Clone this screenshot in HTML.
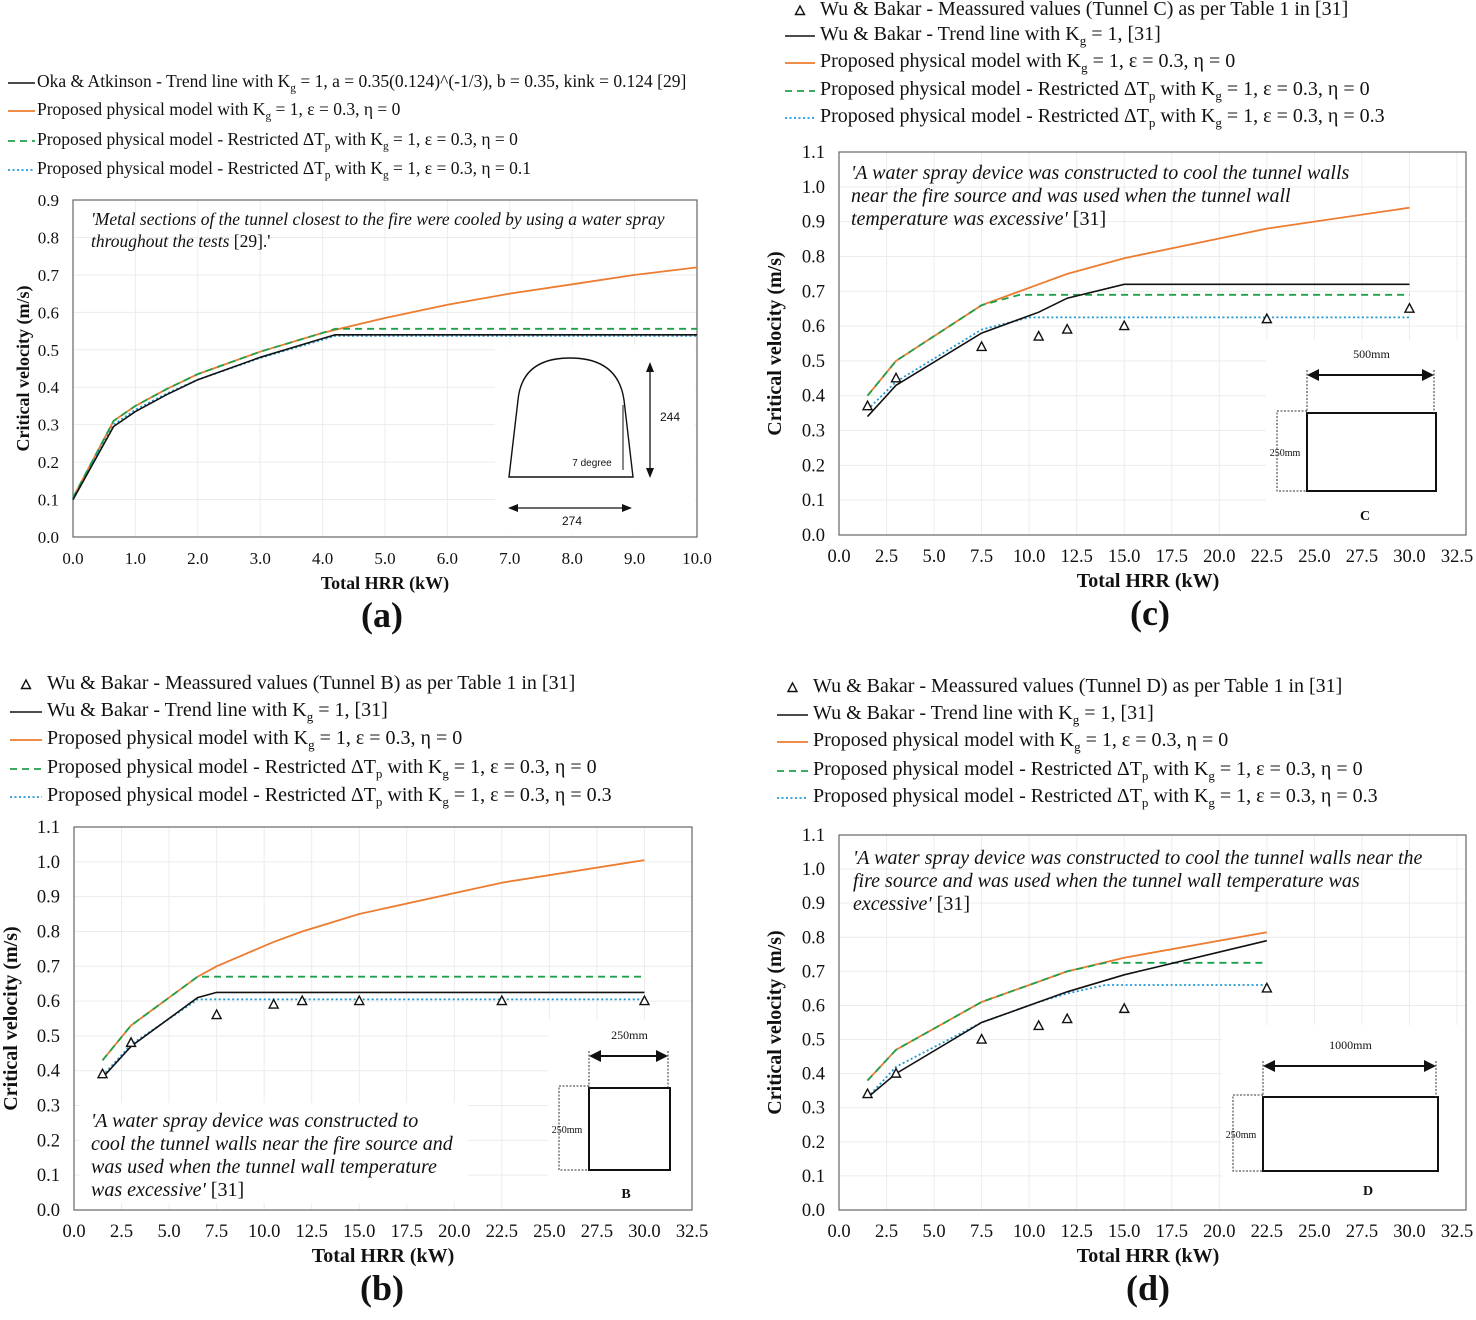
<!DOCTYPE html>
<html><head><meta charset="utf-8">
<style>
html,body{margin:0;padding:0;background:#fff;}
#root{position:relative;width:1476px;height:1320px;overflow:hidden;font-family:"Liberation Serif",serif;}
svg{position:absolute;left:0;top:0;}
.leg{position:absolute;white-space:nowrap;line-height:1;color:#111;}
.leg sub{font-size:0.65em;}
</style></head>
<body>
<div id="root">
<svg id="fig" width="1476" height="1320" xmlns="http://www.w3.org/2000/svg"></svg>
</div>
<script>
// ---- data ----
const aBlackX=[0,0.65,1,1.5,2,3,4,4.2,10];
const aBlackY=[0.1,0.295,0.335,0.38,0.42,0.48,0.53,0.54,0.54];
const aOrangeX=[0,0.65,1,1.5,2,3,4,5,6,7,8,9,10];
const aOrangeY=[0.105,0.31,0.35,0.395,0.435,0.495,0.545,0.585,0.62,0.65,0.675,0.7,0.72];
const aGreenX=[0,0.65,1,1.5,2,3,4,4.2,10];
const aGreenY=[0.105,0.31,0.35,0.395,0.435,0.495,0.545,0.556,0.556];
const aBlueX=[0,0.65,1,1.5,2,3,4,4.2,10];
const aBlueY=[0.1,0.3,0.34,0.383,0.42,0.478,0.527,0.537,0.537];

const bMeasX=[1.5,3,7.5,10.5,12,15,22.5,30];
const bMeasY=[0.39,0.48,0.56,0.59,0.6,0.6,0.6,0.6];
const bBlackX=[1.5,3,6.5,7.5,30];
const bBlackY=[0.38,0.47,0.61,0.625,0.625];
const bOrangeX=[1.5,3,6.5,7.5,10.5,12,15,22.5,30];
const bOrangeY=[0.43,0.53,0.67,0.7,0.77,0.8,0.85,0.94,1.005];
const bGreenX=[1.5,3,6.5,30];
const bGreenY=[0.43,0.53,0.67,0.67];
const bBlueX=[1.5,3,6.5,30];
const bBlueY=[0.385,0.475,0.605,0.605];

const cMeasX=[1.5,3,7.5,10.5,12,15,22.5,30];
const cMeasY=[0.37,0.45,0.54,0.57,0.59,0.6,0.62,0.65];
const cBlackX=[1.5,3,7.5,10.5,12,15,30];
const cBlackY=[0.34,0.43,0.58,0.64,0.68,0.72,0.72];
const cOrangeX=[1.5,3,7.5,10.5,12,15,22.5,30];
const cOrangeY=[0.4,0.5,0.66,0.72,0.75,0.795,0.88,0.94];
const cGreenX=[1.5,3,7.5,9.5,30];
const cGreenY=[0.4,0.5,0.66,0.69,0.69];
const cBlueX=[1.5,3,7.5,10,30];
const cBlueY=[0.36,0.44,0.59,0.625,0.625];

const dMeasX=[1.5,3,7.5,10.5,12,15,22.5];
const dMeasY=[0.34,0.4,0.5,0.54,0.56,0.59,0.65];
const dBlackX=[1.5,3,7.5,10.5,12,15,22.5];
const dBlackY=[0.33,0.4,0.55,0.61,0.64,0.69,0.79];
const dOrangeX=[1.5,3,7.5,10.5,12,15,22.5];
const dOrangeY=[0.38,0.47,0.61,0.67,0.7,0.74,0.815];
const dGreenX=[1.5,3,7.5,10.5,12,14,22.5];
const dGreenY=[0.38,0.47,0.61,0.67,0.7,0.725,0.725];
const dBlueX=[1.5,3,7.5,10.5,12,14,22.5];
const dBlueY=[0.33,0.42,0.55,0.61,0.635,0.66,0.66];

const aXTicks=[0,1,2,3,4,5,6,7,8,9,10];
const aYTicks=[0,0.1,0.2,0.3,0.4,0.5,0.6,0.7,0.8,0.9];
const bigXTicks=[0,2.5,5,7.5,10,12.5,15,17.5,20,22.5,25,27.5,30,32.5];
const bigYTicks=[0,0.1,0.2,0.3,0.4,0.5,0.6,0.7,0.8,0.9,1.0,1.1];

const NS="http://www.w3.org/2000/svg";
const svg=document.getElementById('fig');
function el(tag,attrs,parent){const e=document.createElementNS(NS,tag);for(const k in attrs)e.setAttribute(k,attrs[k]);(parent||svg).appendChild(e);return e;}
function txt(s,x,y,attrs,parent){const t=el('text',Object.assign({x:x,y:y,'font-family':'Liberation Serif, serif','font-size':17,fill:'#111'},attrs),parent);t.textContent=s;return t;}

const styles={
 black:{stroke:'#111','stroke-width':1.6},
 orange:{stroke:'#ec7c30','stroke-width':1.8},
 green:{stroke:'#1ea04a','stroke-width':1.8,'stroke-dasharray':'7,5'},
 blue:{stroke:'#1d9ad6','stroke-width':1.8,'stroke-dasharray':'2,2.5'}
};

function panel(p){
 const g=el('g',{});
 
 
 const sx=v=>p.L+(v-p.xmin)/(p.xmax-p.xmin)*(p.SR-p.L);
 const sy=v=>p.B-(v/p.ymax)*(p.B-p.T);
 p.yticks.forEach(v=>{const l=el('line',{x1:p.L,x2:p.R,y1:sy(v),y2:sy(v),stroke:'#ececec','stroke-width':1},g);
  });
 p.xticks.forEach(v=>{const l=el('line',{x1:sx(v),x2:sx(v),y1:p.T,y2:p.B,stroke:'#ececec','stroke-width':1},g);
  });
 const box=el('rect',{x:p.L,y:p.T,width:p.R-p.L,height:p.B-p.T,fill:'none',stroke:'#666','stroke-width':1.2},g);
 
 p.yticks.forEach(v=>{const t=txt(v.toFixed(1),p.L-14,sy(v)+6,{'text-anchor':'end','font-size':p.tfs},g);
  });
 p.xticks.forEach(v=>{const t=txt(v.toFixed(1),sx(v),p.B+27,{'text-anchor':'middle','font-size':p.tfs},g);
  });
 const xt=txt('Total HRR (kW)',(p.L+p.SR)/2,p.B+52,{'text-anchor':'middle','font-weight':'bold','font-size':p.afs},g);
 
 const yt=txt('Critical velocity (m/s)',0,0,{'text-anchor':'middle','font-weight':'bold','font-size':p.afs,transform:`translate(${p.ytx},${(p.T+p.B)/2}) rotate(-90)`},g);
 
 const lab=txt(p.label,p.labx,p.B+90,{'text-anchor':'middle','font-weight':'bold','font-size':36},g);
 
 p.draw(g,sx,sy);
 p.series.forEach(s=>{
  const pts=s.x.map((v,i)=>sx(v).toFixed(1)+','+sy(s.y[i]).toFixed(1)).join(' ');
  const pl=el('polyline',Object.assign({points:pts,fill:'none'},styles[s.style]),g);
  
 });
 if(p.meas){p.meas.x.forEach((v,i)=>{const X=sx(v),Y=sy(p.meas.y[i]);
  const tr=el('polygon',{points:`${X},${Y-5} ${X-4.5},${Y+3.5} ${X+4.5},${Y+3.5}`,fill:'#fff',stroke:'#111','stroke-width':1.4},g);
  });}
}
function rectInset(g,o){
 const bg=el('rect',{x:o.bx,y:o.by,width:o.bw,height:o.bh,fill:'#fff'},g);
 
 const r=el('rect',{x:o.rx,y:o.ry,width:o.rw,height:o.rh,fill:'none',stroke:'#111','stroke-width':2},g);
 
 el('line',{x1:o.rx,x2:o.rx,y1:o.ay-5,y2:o.ry,stroke:'#333','stroke-dasharray':'2,1.5'},g);
 el('line',{x1:o.rx+o.rw-2,x2:o.rx+o.rw-2,y1:o.ay-5,y2:o.ry,stroke:'#333','stroke-dasharray':'2,1.5'},g);
 el('line',{x1:o.rx+10,x2:o.rx+o.rw-12,y1:o.ay,y2:o.ay,stroke:'#111','stroke-width':2},g);
 el('polygon',{points:`${o.rx},${o.ay} ${o.rx+12},${o.ay-6} ${o.rx+12},${o.ay+6}`,fill:'#111'},g);
 el('polygon',{points:`${o.rx+o.rw-2},${o.ay} ${o.rx+o.rw-14},${o.ay-6} ${o.rx+o.rw-14},${o.ay+6}`,fill:'#111'},g);
 el('polyline',{points:`${o.rx},${o.ry-2} ${o.rx-30},${o.ry-2} ${o.rx-30},${o.ry+o.rh} ${o.rx},${o.ry+o.rh}`,fill:'none',stroke:'#333','stroke-dasharray':'2,1.5'},g);
 const w=txt(o.wlab,o.rx+o.rw/2,o.ay-17,{'text-anchor':'middle','font-size':12},g);
 
 const h=txt('250mm',o.rx-22,o.ry+o.rh/2+4,{'text-anchor':'middle','font-size':10},g);
 
 const c=txt(o.letter,o.lx,o.ly,{'text-anchor':'middle','font-size':14,'font-weight':'bold'},g);
 
}
function note(g,lines,x,y0,dy,fs,bg){
 if(bg){const b=el('rect',bg,g);b.setAttribute('fill','#fff');}
 lines.forEach((s,i)=>{const t=txt('',x,y0+i*dy,{'font-size':fs},g);
  
  const m=s.match(/^(.*?)(\s\[\d+\].*)?$/);
  const a=el('tspan',{'font-style':'italic'},t);a.textContent=m[1];
  if(m[2]){const b=el('tspan',{},t);b.textContent=m[2];}
 });
}

panel({name:'panel-a',L:73,R:697,SR:697,T:200,B:537,xmin:0,xmax:10,ymax:0.9,xticks:aXTicks,yticks:aYTicks,ytx:29,label:'(a)',labx:382,tfs:17,afs:18,
 series:[{name:'series-orange',x:aOrangeX,y:aOrangeY,style:'orange'},{name:'series-green',x:aGreenX,y:aGreenY,style:'green'},{name:'series-blue',x:aBlueX,y:aBlueY,style:'blue'},{name:'series-black',x:aBlackX,y:aBlackY,style:'black'}],
 draw:(g)=>{
  note(g,["'Metal sections of the tunnel closest to the fire were cooled by using a water spray","throughout the tests [29].'"],91,225,22,17.5);
  const bg=el('rect',{x:495,y:345,width:200,height:190,fill:'#fff'},g);
  
  const ar=el('path',{d:'M509,477 L518,400 Q522,358 570,358 Q618,358 624,400 L633,477 Z',fill:'none',stroke:'#111','stroke-width':1.4},g);
  
  el('line',{x1:623,x2:623,y1:405,y2:470,stroke:'#111','stroke-width':1},g);
  el('line',{x1:650,x2:650,y1:368,y2:472,stroke:'#111','stroke-width':1.3},g);
  el('polygon',{points:'650,362 646,372 654,372',fill:'#111'},g);
  el('polygon',{points:'650,478 646,468 654,468',fill:'#111'},g);
  el('line',{x1:512,x2:628,y1:508,y2:508,stroke:'#111','stroke-width':1.3},g);
  el('polygon',{points:'508,508 518,504 518,512',fill:'#111'},g);
  el('polygon',{points:'632,508 622,504 622,512',fill:'#111'},g);
  txt('244',670,421,{'text-anchor':'middle','font-family':'Liberation Sans, sans-serif','font-size':12},g);
  txt('274',572,525,{'text-anchor':'middle','font-family':'Liberation Sans, sans-serif','font-size':12},g);
  txt('7 degree',592,466,{'text-anchor':'middle','font-family':'Liberation Sans, sans-serif','font-size':10},g);
 }});

panel({name:'panel-c',L:839,R:1466,SR:1457,T:152,B:535,xmin:0,xmax:32.5,ymax:1.1,xticks:bigXTicks,yticks:bigYTicks,ytx:781,label:'(c)',labx:1150,tfs:18.5,afs:20,
 series:[{name:'series-orange',x:cOrangeX,y:cOrangeY,style:'orange'},{name:'series-green',x:cGreenX,y:cGreenY,style:'green'},{name:'series-blue',x:cBlueX,y:cBlueY,style:'blue'},{name:'series-black',x:cBlackX,y:cBlackY,style:'black'}],
 meas:{x:cMeasX,y:cMeasY},
 draw:(g)=>{
  note(g,["'A water spray device was constructed to cool the tunnel walls","near the fire source and was used when the tunnel wall","temperature was excessive' [31]"],851,179,23,20);
  rectInset(g,{bx:1266,by:340,bw:199,bh:194,rx:1307,ry:413,rw:129,rh:78,ay:375,wlab:'500mm',letter:'C',lx:1365,ly:520});
 }});

panel({name:'panel-b',L:74,R:692,SR:692,T:827,B:1210,xmin:0,xmax:32.5,ymax:1.1,xticks:bigXTicks,yticks:bigYTicks,ytx:17,label:'(b)',labx:382,tfs:18.5,afs:20,
 series:[{name:'series-orange',x:bOrangeX,y:bOrangeY,style:'orange'},{name:'series-green',x:bGreenX,y:bGreenY,style:'green'},{name:'series-blue',x:bBlueX,y:bBlueY,style:'blue'},{name:'series-black',x:bBlackX,y:bBlackY,style:'black'}],
 meas:{x:bMeasX,y:bMeasY},
 draw:(g)=>{
  rectInset(g,{bx:548,by:1020,bw:143,bh:189,rx:589,ry:1088,rw:81,rh:82,ay:1056,wlab:'250mm',letter:'B',lx:626,ly:1198});
  note(g,["'A water spray device was constructed to","cool the tunnel walls near the fire source and","was used when the tunnel wall temperature","was excessive' [31]"],91,1127,23,20,{x:80,y:1103,width:388,height:100});
 }});

panel({name:'panel-d',L:839,R:1466,SR:1457,T:835,B:1210,xmin:0,xmax:32.5,ymax:1.1,xticks:bigXTicks,yticks:bigYTicks,ytx:781,label:'(d)',labx:1148,tfs:18.5,afs:20,
 series:[{name:'series-orange',x:dOrangeX,y:dOrangeY,style:'orange'},{name:'series-green',x:dGreenX,y:dGreenY,style:'green'},{name:'series-blue',x:dBlueX,y:dBlueY,style:'blue'},{name:'series-black',x:dBlackX,y:dBlackY,style:'black'}],
 meas:{x:dMeasX,y:dMeasY},
 draw:(g)=>{
  note(g,["'A water spray device was constructed to cool the tunnel walls near the","fire source and was used when the tunnel wall temperature was","excessive' [31]"],853,864,23,20);
  rectInset(g,{bx:1222,by:1025,bw:243,bh:184,rx:1263,ry:1097,rw:175,rh:74,ay:1066,wlab:'1000mm',letter:'D',lx:1368,ly:1195});
 }});

const root=document.getElementById('root');
function legend(x0,x1,tx,rows,ys,fs,name){
 rows.forEach((r,i)=>{
  const y=ys[i];
  if(r[0]==='tri'){const X=(x0+x1)/2;
   const t=el('polygon',{points:`${X},${y-5} ${X-4.5},${y+3.5} ${X+4.5},${y+3.5}`,fill:'#fff',stroke:'#111','stroke-width':1.4});
   }
  else{const l=el('line',Object.assign({x1:x0,x2:x1,y1:y,y2:y},styles[r[0]]));
   }
  const d=document.createElement('div');d.className='leg';d.style.left=tx+'px';d.style.top=(y-fs*0.6)+'px';d.style.fontSize=fs+'px';d.innerHTML=r[1];
  
  
  root.appendChild(d);
 });
}
const PM='Proposed physical model with K<sub>g</sub> = 1, ε = 0.3, η = 0';
const RP=e=>'Proposed physical model - Restricted ΔT<sub>p</sub> with K<sub>g</sub> = 1, ε = 0.3, η = '+e;
legend(8,35,37,[['black','Oka &amp; Atkinson - Trend line with K<sub>g</sub> = 1, a = 0.35(0.124)^(-1/3), b = 0.35, kink = 0.124 [29]'],['orange',PM],['green',RP('0')],['blue',RP('0.1')]],[83,111,141,170],17.5,'legend-entry-a');
legend(785,815,820,[['tri','Wu &amp; Bakar - Meassured values (Tunnel C) as per Table 1 in [31]'],['black','Wu &amp; Bakar - Trend line with K<sub>g</sub> = 1, [31]'],['orange',PM],['green',RP('0')],['blue',RP('0.3')]],[11,36,63,91,118],20,'legend-entry-c');
legend(10,42,47,[['tri','Wu &amp; Bakar - Meassured values (Tunnel B) as per Table 1 in [31]'],['black','Wu &amp; Bakar - Trend line with K<sub>g</sub> = 1, [31]'],['orange',PM],['green',RP('0')],['blue',RP('0.3')]],[685,712,740,769,797],20,'legend-entry-b');
legend(777,808,813,[['tri','Wu &amp; Bakar - Meassured values (Tunnel D) as per Table 1 in [31]'],['black','Wu &amp; Bakar - Trend line with K<sub>g</sub> = 1, [31]'],['orange',PM],['green',RP('0')],['blue',RP('0.3')]],[688,715,742,771,798],20,'legend-entry-d');
</script>
</body></html>
